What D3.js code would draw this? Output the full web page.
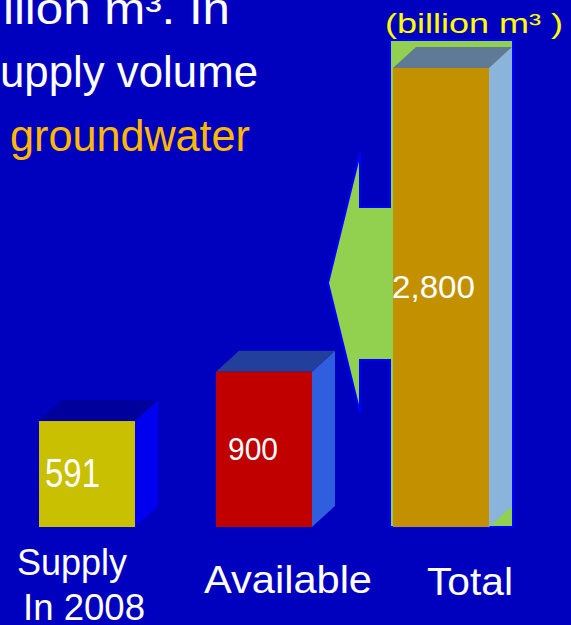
<!DOCTYPE html>
<html>
<head>
<meta charset="utf-8">
<script src="https://cdn.jsdelivr.net/npm/d3@7"></script>
<style>
  body { margin: 0; background: #0000bf; }
  svg { display: block; }
</style>
</head>
<body>
<svg width="571" height="625"></svg>
<script>
// data
var categories = ["Supply In 2008", "Available", "Total"];
var values = [591, 900, 2800];
var valueLabels = ["591", "900", "2,800"];
var categoryLines = [["Supply", "In 2008"], ["Available"], ["Total"]];
var introLines = ["llion m\u00b3. In", "upply volume", "groundwater"];
var unitLabel = "(billion m\u00b3 )";

// styles
var frontColors = ["#c8c000", "#c00000", "#c39000"];
var sideColors = ["#0000f0", "#2f5fde", "#8ab4dc"];
var topColors = ["#00009c", "#233f9c", "#5f7a97"];

var svg = d3.select("svg"),
  width = +svg.attr("width"),
  height = +svg.attr("height"),
  barW = 96, depthX = 23, depthY = 21;

svg.append("rect").attr("width", width).attr("height", height).attr("fill", "#0000bf");

var x = d3.scalePoint().domain(categories).range([87, 441]);
var y = d3.scaleLinear().domain([-72, 2800]).range([527, 68]);

// intro text, cut off at the left edge
var intro = [
  {t: introLines[0], x: 3, y: 24, len: 227, c: "#ffffff"},
  {t: introLines[1], x: 0, y: 87, len: 258, c: "#ffffff"},
  {t: introLines[2], x: 10, y: 151, len: 240, c: "#ffb800"}
];
svg.selectAll(".intro")
  .data(intro)
  .enter().append("text")
    .attr("class", "intro")
    .attr("x", function(d) { return d.x; })
    .attr("y", function(d) { return d.y; })
    .attr("textLength", function(d) { return d.len; })
    .attr("lengthAdjust", "spacingAndGlyphs")
    .attr("fill", function(d) { return d.c; })
    .style("font", "44px 'Liberation Sans', sans-serif")
    .text(function(d) { return d.t; });

// green arrow behind the total bar
var tot = categories[2],
  tl = x(tot) - barW / 2,
  ty = y(values[2]),
  by = y.range()[0],
  mid = 283;
var arrow = [
  [tl - 3, ty - depthY - 7], [tl + barW + depthX + 1, ty - depthY - 7],
  [tl + barW + depthX + 1, by], [tl - 3, by],
  [tl - 3, mid + 77], [tl - 33, mid + 77], [tl - 33, mid + 130],
  [tl - 65, mid], [tl - 33, mid - 130], [tl - 33, mid - 76],
  [tl - 3, mid - 76]
];
svg.append("path")
  .attr("d", d3.line()(arrow) + "Z")
  .attr("fill", "#92d050")
  .attr("stroke", "#0000ff")
  .attr("stroke-width", 2)
  .attr("stroke-linejoin", "miter");

// 3d bars
var bar = svg.selectAll(".bar")
  .data(values)
  .enter().append("g")
    .attr("class", "bar");

bar.append("path")
  .attr("fill", function(d, i) { return sideColors[i]; })
  .attr("d", function(d, i) {
    var x1 = x(categories[i]) + barW / 2, y0 = y(d);
    return d3.line()([[x1, y0], [x1 + depthX, y0 - depthY], [x1 + depthX, by - depthY], [x1, by]]) + "Z";
  });

bar.append("path")
  .attr("fill", function(d, i) { return topColors[i]; })
  .attr("d", function(d, i) {
    var x0 = x(categories[i]) - barW / 2, y0 = y(d);
    return d3.line()([[x0, y0], [x0 + depthX, y0 - depthY], [x0 + barW + depthX, y0 - depthY], [x0 + barW, y0]]) + "Z";
  });

bar.append("rect")
  .attr("x", function(d, i) { return x(categories[i]) - barW / 2; })
  .attr("y", function(d) { return y(d); })
  .attr("width", barW)
  .attr("height", function(d) { return by - y(d); })
  .attr("fill", function(d, i) { return frontColors[i]; });

// value labels
var vl = [
  {dx: -14.5, dy: 13, size: 40, len: 55},
  {dx: -11, dy: 10.5, size: 32, len: 50},
  {dx: -7.5, dy: 0.5, size: 32, len: 83}
];
bar.append("text")
  .attr("x", function(d, i) { return x(categories[i]) + vl[i].dx; })
  .attr("y", function(d, i) { return (y(d) + by) / 2 + vl[i].dy; })
  .attr("text-anchor", "middle")
  .attr("textLength", function(d, i) { return vl[i].len; })
  .attr("lengthAdjust", "spacingAndGlyphs")
  .attr("fill", "#ffffff")
  .style("font-family", "'Liberation Sans', Arial, sans-serif")
  .style("font-size", function(d, i) { return vl[i].size + "px"; })
  .text(function(d, i) { return valueLabels[i]; });

// category labels
var cl = [
  [{dx: -15, y: 575, len: 110, size: 37}, {dx: -3, y: 620, len: 122, size: 37}],
  [{dx: 24, y: 593, len: 168, size: 38}],
  [{dx: 29, y: 595, len: 86, size: 38}]
];
categoryLines.forEach(function(lines, i) {
  lines.forEach(function(t, j) {
    var o = cl[i][j];
    svg.append("text")
      .attr("x", x(categories[i]) + o.dx)
      .attr("y", o.y)
      .attr("text-anchor", "middle")
      .attr("textLength", o.len)
      .attr("lengthAdjust", "spacingAndGlyphs")
      .attr("fill", "#ffffff")
      .style("font-family", "'Liberation Sans', sans-serif")
      .style("font-size", o.size + "px")
      .text(t);
  });
});

// unit
svg.append("text")
  .attr("x", 385)
  .attr("y", 33)
  .attr("textLength", 178)
  .attr("lengthAdjust", "spacingAndGlyphs")
  .attr("fill", "#ffff00")
  .style("font", "28px 'Liberation Sans', sans-serif")
  .text(unitLabel);
</script>
</body>
</html>
